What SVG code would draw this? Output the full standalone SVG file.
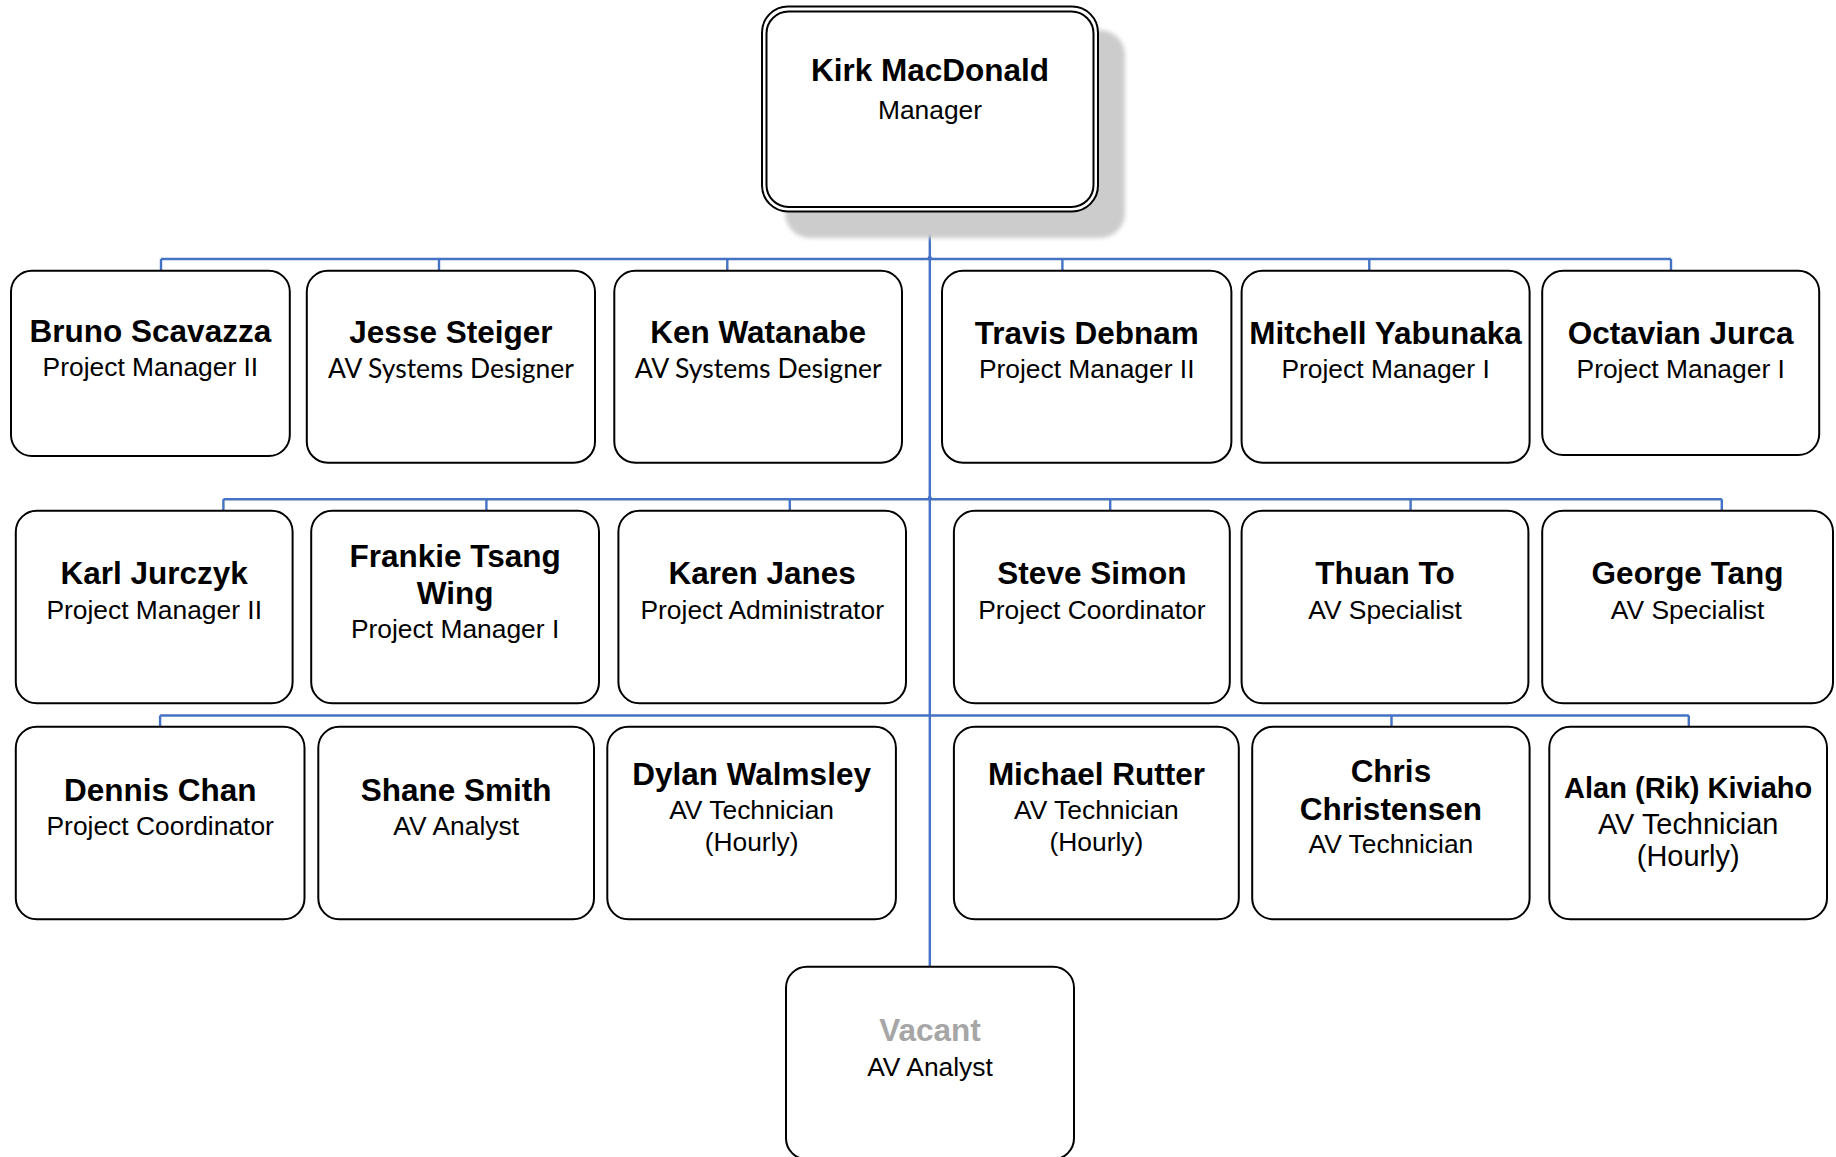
<svg xmlns="http://www.w3.org/2000/svg" width="1836" height="1157" viewBox="0 0 1836 1157">
<style>
.box{fill:#ffffff;stroke:#000000;stroke-width:2}
.ln{fill:none;stroke:#4472c4;stroke-width:2.4}
.mk{fill:#4472c4}
.nm{font-family:"Liberation Sans",Arial,sans-serif;font-weight:bold;font-size:31.5px;fill:#000000;text-anchor:middle}
.tt{font-family:"Liberation Sans",Arial,sans-serif;font-size:26.4px;fill:#000000;text-anchor:middle}
.cal{font-family:Lato,"Liberation Sans",sans-serif;font-size:27px;fill:#000000;text-anchor:middle}
</style>
<defs>
<filter id="blur" x="-10%" y="-10%" width="120%" height="120%"><feGaussianBlur stdDeviation="2"/></filter>
</defs>
<rect width="1836" height="1157" fill="#ffffff"/>
<g id="connectors">
<path class="ln" d="M929.8 212V967"/>
<path class="ln" d="M161 259H1671M161 259V271M439 259V271M727.3 259V271M1062.4 259V271M1369.3 259V271M1671 259V271"/>
<path class="ln" d="M223.4 499.3H1721.8M223.4 499.3V511M486.4 499.3V511M789.8 499.3V511M1110.2 499.3V511M1410.6 499.3V511M1721.8 499.3V511"/>
<path class="ln" d="M160.1 715.5H1688.8M160.1 715.5V727M1391.5 715.5V727M1688.8 715.5V727"/>
<path class="mk" d="M926.8 259L929.8 254L932.8 259Z"/>
<path class="mk" d="M926.8 499.3L929.8 494.3L932.8 499.3Z"/>
</g>
<g id="kirk">
<rect x="785" y="30" width="340" height="208" rx="25" fill="#cccccc" filter="url(#blur)"/>
<rect x="762" y="6.5" width="336" height="205" rx="26" fill="#ffffff" stroke="#000" stroke-width="2"/>
<rect x="766.5" y="11.5" width="327" height="195.5" rx="22" fill="none" stroke="#000" stroke-width="2"/>
<text class="nm" x="930" y="81">Kirk MacDonald</text>
<text class="tt" x="930" y="119">Manager</text>
</g>
<g id="bruno">
<rect class="box" x="11" y="270.7" width="278.8" height="185.3" rx="21"/>
<text class="nm" x="150.4" y="342">Bruno Scavazza</text>
<text class="tt" x="150.4" y="376">Project Manager II</text>
</g>
<g id="jesse">
<rect class="box" x="306.8" y="270.7" width="288.2" height="192" rx="21"/>
<text class="nm" x="450.9" y="343">Jesse Steiger</text>
<text class="cal" x="450.9" y="378" textLength="246" lengthAdjust="spacingAndGlyphs">AV Systems Designer</text>
</g>
<g id="ken">
<rect class="box" x="614.3" y="270.7" width="287.7" height="192" rx="21"/>
<text class="nm" x="758.2" y="343">Ken Watanabe</text>
<text class="cal" x="758.2" y="378" textLength="247" lengthAdjust="spacingAndGlyphs">AV Systems Designer</text>
</g>
<g id="travis">
<rect class="box" x="942" y="270.7" width="289.4" height="192" rx="21"/>
<text class="nm" x="1086.7" y="344">Travis Debnam</text>
<text class="tt" x="1086.7" y="378">Project Manager II</text>
</g>
<g id="mitchell">
<rect class="box" x="1241.6" y="270.7" width="288" height="192" rx="21"/>
<text class="nm" x="1385.6" y="344">Mitchell Yabunaka</text>
<text class="tt" x="1385.6" y="378">Project Manager I</text>
</g>
<g id="octavian">
<rect class="box" x="1542.2" y="270.7" width="277" height="184.3" rx="21"/>
<text class="nm" x="1680.7" y="344">Octavian Jurca</text>
<text class="tt" x="1680.7" y="378">Project Manager I</text>
</g>
<g id="karl">
<rect class="box" x="15.8" y="510.7" width="276.8" height="192.6" rx="21"/>
<text class="nm" x="154.2" y="584.3">Karl Jurczyk</text>
<text class="tt" x="154.2" y="618.5">Project Manager II</text>
</g>
<g id="frankie">
<rect class="box" x="311.2" y="510.7" width="287.8" height="192.6" rx="21"/>
<text class="nm" x="455.1" y="567">Frankie Tsang</text>
<text class="nm" x="455.1" y="604">Wing</text>
<text class="tt" x="455.1" y="638">Project Manager I</text>
</g>
<g id="karen">
<rect class="box" x="618.4" y="510.7" width="287.6" height="192.6" rx="21"/>
<text class="nm" x="762.2" y="584.3">Karen Janes</text>
<text class="tt" x="762.2" y="618.5">Project Administrator</text>
</g>
<g id="steve">
<rect class="box" x="953.9" y="510.7" width="275.9" height="192.6" rx="21"/>
<text class="nm" x="1091.9" y="584.3">Steve Simon</text>
<text class="tt" x="1091.9" y="618.5">Project Coordinator</text>
</g>
<g id="thuan">
<rect class="box" x="1241.6" y="510.7" width="286.8" height="192.6" rx="21"/>
<text class="nm" x="1385" y="584.3">Thuan To</text>
<text class="tt" x="1385" y="618.5">AV Specialist</text>
</g>
<g id="george">
<rect class="box" x="1542.2" y="510.7" width="290.8" height="192.6" rx="21"/>
<text class="nm" x="1687.6" y="584.3">George Tang</text>
<text class="tt" x="1687.6" y="618.5">AV Specialist</text>
</g>
<g id="dennis">
<rect class="box" x="15.8" y="726.7" width="288.7" height="192.6" rx="21"/>
<text class="nm" x="160.2" y="801">Dennis Chan</text>
<text class="tt" x="160.2" y="835">Project Coordinator</text>
</g>
<g id="shane">
<rect class="box" x="318.3" y="726.7" width="275.7" height="192.6" rx="21"/>
<text class="nm" x="456.2" y="801">Shane Smith</text>
<text class="tt" x="456.2" y="835">AV Analyst</text>
</g>
<g id="dylan">
<rect class="box" x="607.3" y="726.7" width="288.6" height="192.6" rx="21"/>
<text class="nm" x="751.6" y="785">Dylan Walmsley</text>
<text class="tt" x="751.6" y="819">AV Technician</text>
<text class="tt" x="751.6" y="851">(Hourly)</text>
</g>
<g id="michael">
<rect class="box" x="953.9" y="726.7" width="284.9" height="192.6" rx="21"/>
<text class="nm" x="1096.4" y="785">Michael Rutter</text>
<text class="tt" x="1096.4" y="819">AV Technician</text>
<text class="tt" x="1096.4" y="851">(Hourly)</text>
</g>
<g id="chris">
<rect class="box" x="1252.2" y="726.7" width="277.4" height="192.6" rx="21"/>
<text class="nm" x="1390.9" y="782">Chris</text>
<text class="nm" x="1390.9" y="820">Christensen</text>
<text class="tt" x="1390.9" y="853">AV Technician</text>
</g>
<g id="alan">
<rect class="box" x="1549.3" y="726.7" width="277.7" height="192.6" rx="21"/>
<text class="nm" x="1688.2" y="798" style="font-size:29px">Alan (Rik) Kiviaho</text>
<text class="tt" x="1688.2" y="834" style="font-size:28.9px">AV Technician</text>
<text class="tt" x="1688.2" y="866" style="font-size:28.9px">(Hourly)</text>
</g>
<g id="vacant">
<rect class="box" x="786" y="966.7" width="288" height="192.6" rx="21"/>
<text class="nm" x="930" y="1041" style="fill:#a6a6a6">Vacant</text>
<text class="tt" x="930" y="1076">AV Analyst</text>
</g>
</svg>
